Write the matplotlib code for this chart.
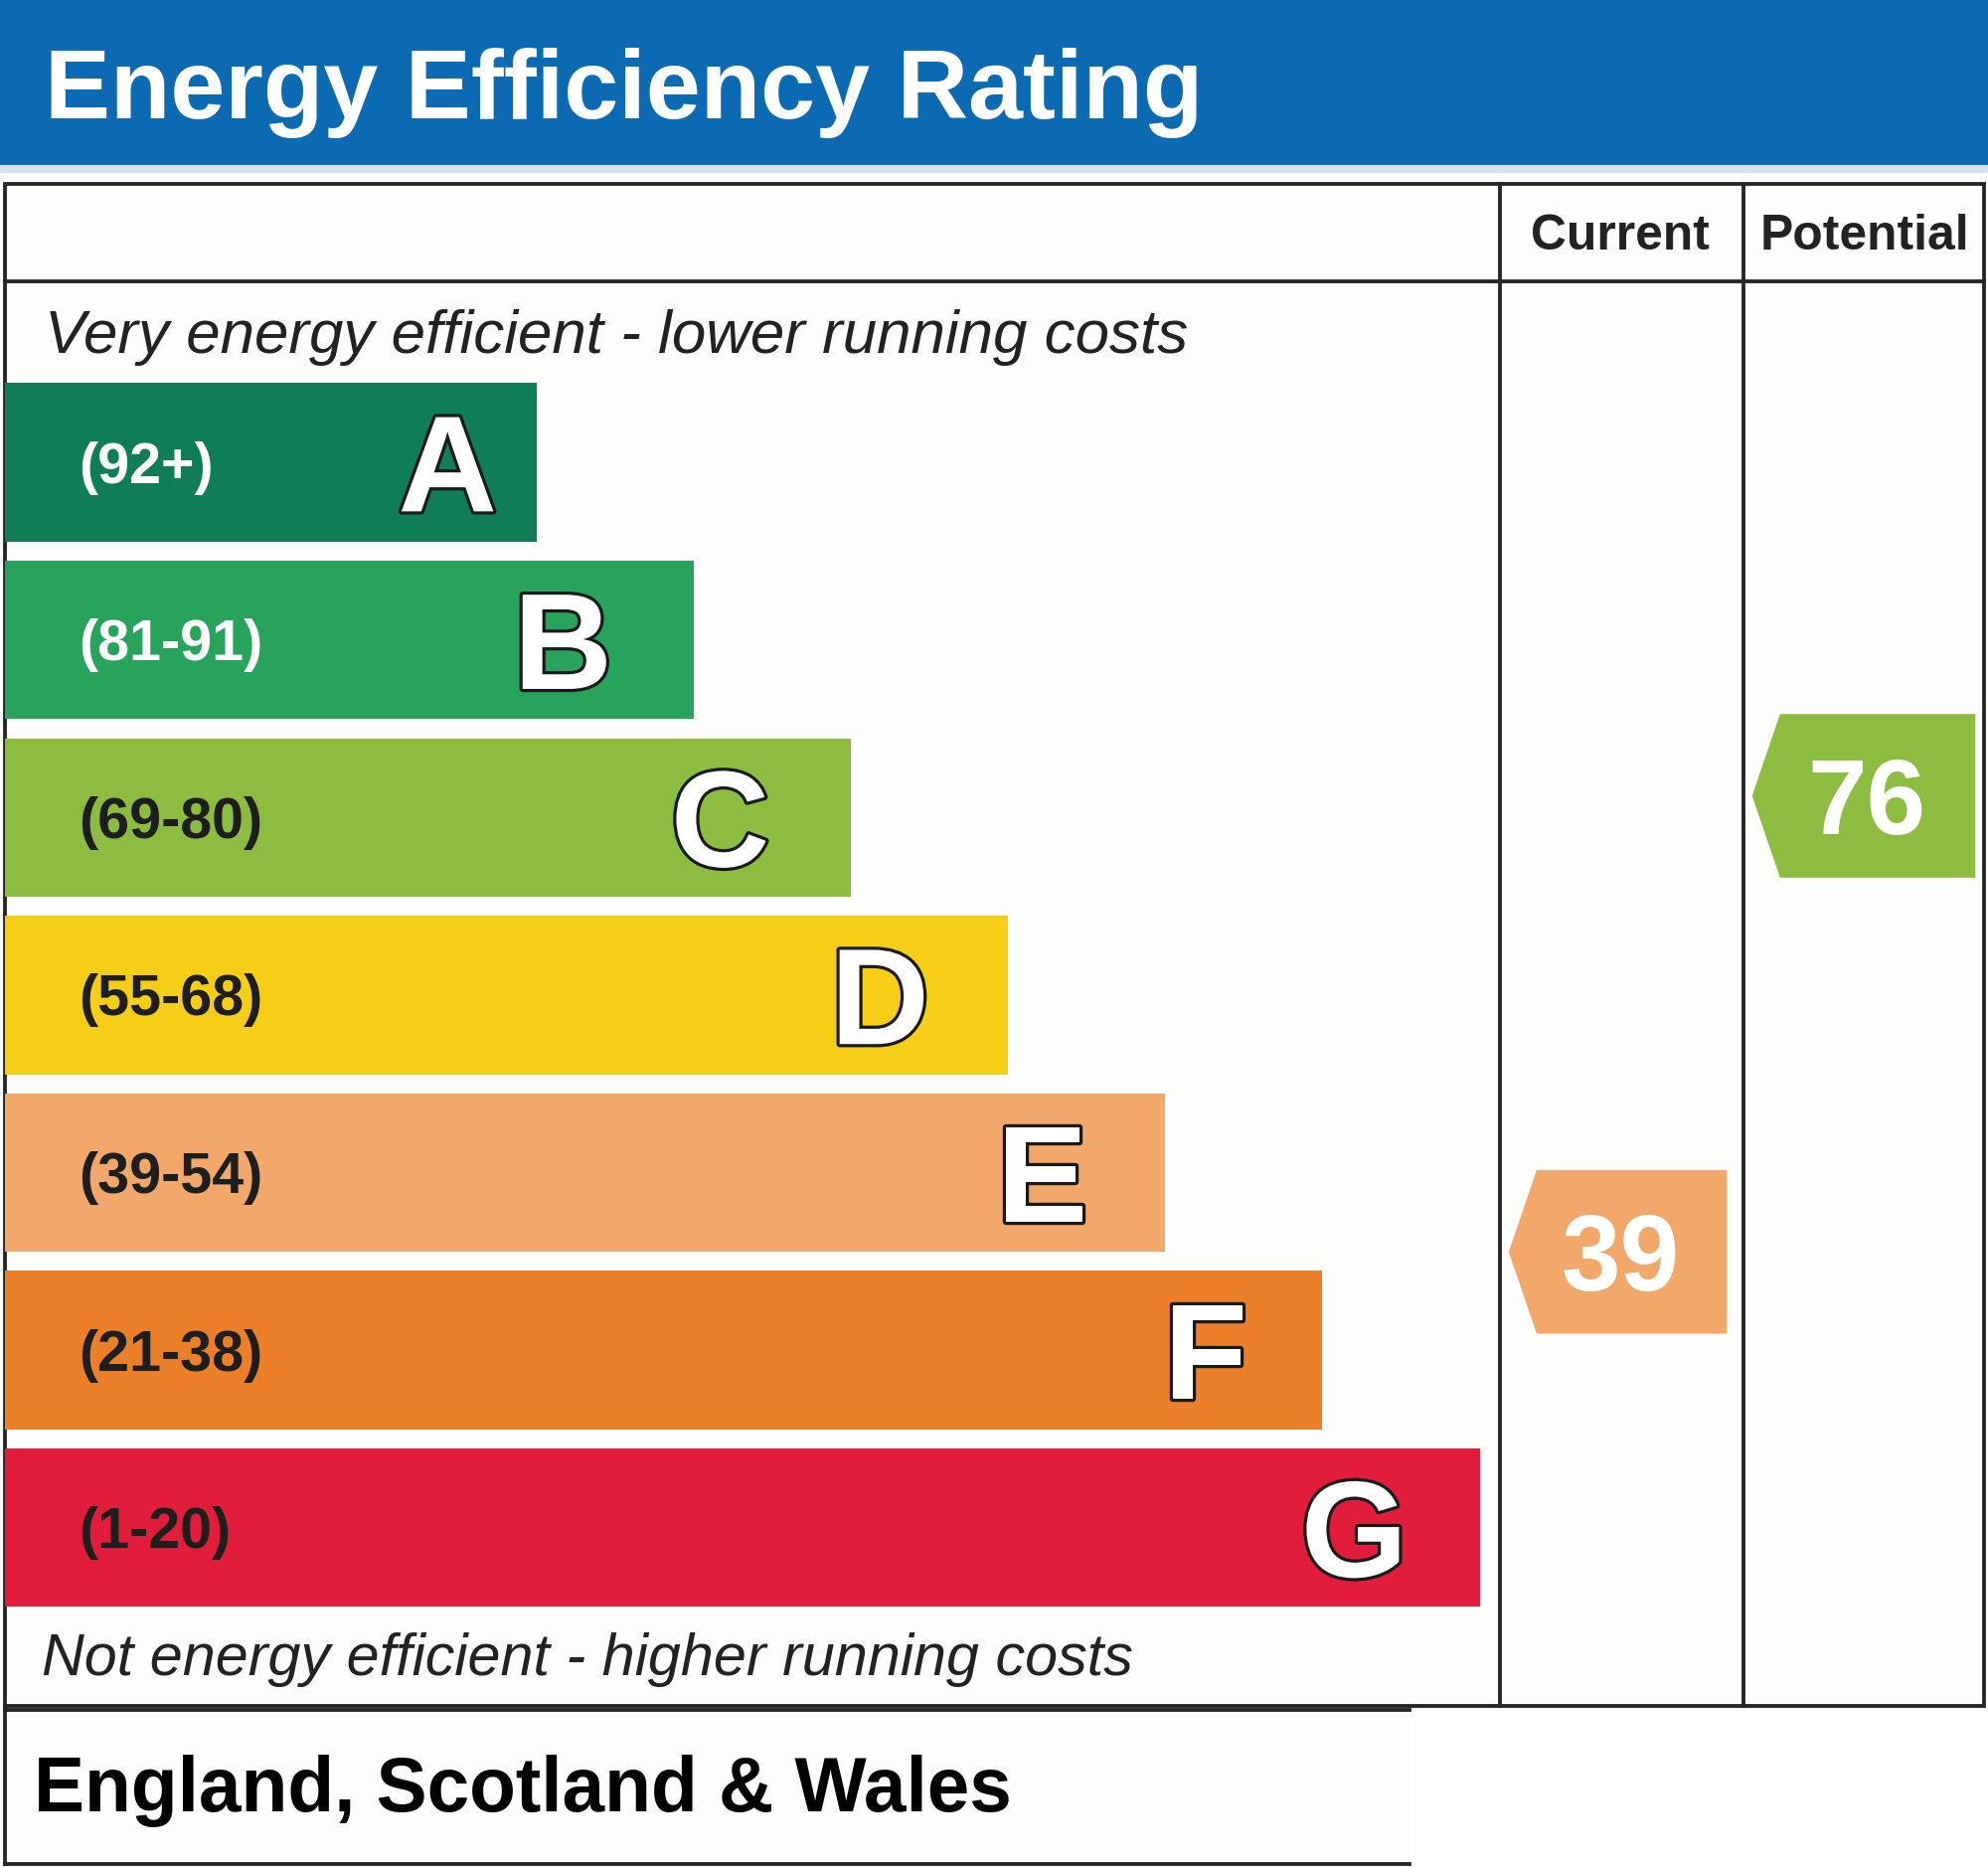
import matplotlib
matplotlib.use("Agg")
import matplotlib.pyplot as plt
import matplotlib.patheffects as pe
from matplotlib.patches import Rectangle, Polygon

plt.rcParams["font.family"] = ["Liberation Sans", "DejaVu Sans"]

# rating bands
bands = ["A", "B", "C", "D", "E", "F", "G"]
band_ranges = ["(92+)", "(81-91)", "(69-80)", "(55-68)", "(39-54)", "(21-38)", "(1-20)"]
band_lo = [92, 81, 69, 55, 39, 21, 1]
band_hi = [100, 91, 80, 68, 54, 38, 20]
band_colors = ["#0f7d55", "#27a35b", "#8cbd40", "#f6cd17", "#f2a86b", "#ec7f29", "#e21d3b"]
range_text_colors = ["white", "white", "#1e1e1e", "#1e1e1e", "#1e1e1e", "#1e1e1e", "#1e1e1e"]

# scores
current_score = 39
potential_score = 76

# layout in reference units (1568 x 1472 canvas)
W, H = 1568, 1472
U = 2000 / W                  # pixels per unit
PT = U * 72 / 100             # points per unit
CAP = 0.716                   # cap height / em for Liberation Sans

frame_l, frame_r, frame_t, frame_b = 4, 1565, 145, 1345
header_b = 222
col1, col2 = 1183, 1375
bar_top0, bar_pitch, bar_h = 302, 140, 125
bar_w0, bar_step = 419, 124
letter_offset = [70, 103, 103, 101, 97, 92, 99]
line_col = "#262626"
lw = 3 * PT

fig = plt.figure(figsize=(20, 18.78), dpi=100)
ax = fig.add_axes([0, 0, 1, 1])
ax.set_xlim(0, W)
ax.set_ylim(H, 0)
ax.axis("off")
fig.patch.set_facecolor("white")

# blue header
ax.add_patch(Rectangle((0, 0), W, 130, color="#0b6ab2", lw=0))
ax.add_patch(Rectangle((0, 130), W, 6, color="#d6e4f2", lw=0))
ax.text(35, 93, "Energy Efficiency Rating", color="white", fontsize=77.5 * PT,
        fontweight="bold", va="baseline", ha="left")

# main frame
ax.add_patch(Rectangle((frame_l, frame_t), frame_r - frame_l, frame_b - frame_t,
                       facecolor="#fdfdfb", edgecolor=line_col, lw=lw))
ax.plot([frame_l, frame_r], [header_b, header_b], color=line_col, lw=lw)
for cx in (col1, col2):
    ax.plot([cx, cx], [frame_t, frame_b], color=line_col, lw=lw)

ax.text((col1 + col2) / 2 - 1, 197, "Current", color="#222222", fontsize=39 * PT,
        fontweight="bold", ha="center", va="baseline")
ax.text((col2 + frame_r) / 2 + 1, 197, "Potential", color="#222222", fontsize=39 * PT,
        fontweight="bold", ha="center", va="baseline")

ax.text(35, 278, "Very energy efficient - lower running costs", color="#222222",
        fontsize=48.5 * PT, style="italic", va="baseline")
ax.text(33, 1321, "Not energy efficient - higher running costs", color="#222222",
        fontsize=46.5 * PT, style="italic", va="baseline")

# bands
range_em = 45
letter_em = 108
for i, b in enumerate(bands):
    top = bar_top0 + i * bar_pitch
    right = frame_l + bar_w0 + i * bar_step
    ax.add_patch(Rectangle((frame_l, top), right - frame_l, bar_h,
                           color=band_colors[i], lw=0))
    yc = top + bar_h / 2
    ax.text(62, yc + CAP * range_em / 2, band_ranges[i], color=range_text_colors[i],
            fontsize=range_em * PT, fontweight="bold", va="baseline")
    ax.text(right - letter_offset[i], yc + CAP * letter_em / 2, b, color="white",
            fontsize=letter_em * PT, fontweight="bold", ha="center", va="baseline",
            path_effects=[pe.withStroke(linewidth=5 * PT, foreground="#1a1a1a")])


def score_y(score):
    for i in range(len(bands)):
        if band_lo[i] <= score <= band_hi[i]:
            bottom = bar_top0 + i * bar_pitch + bar_h
            frac = (score - band_lo[i]) / (band_hi[i] - band_lo[i])
            return bottom - frac * bar_h, band_colors[i]
    return None, None


def score_arrow(score, left, right):
    yc, c = score_y(score)
    half = 64.5
    tip, body_l, body_r = left + 7, left + 29, right - 13
    pts = [(tip, yc), (body_l, yc - half), (body_r, yc - half),
           (body_r, yc + half), (body_l, yc + half)]
    ax.add_patch(Polygon(pts, closed=True, color=c, lw=0))
    num_em = 84
    ax.text((body_l + body_r) / 2 - 9, yc + CAP * num_em / 2, str(score), color="white",
            fontsize=num_em * PT, fontweight="bold", ha="center", va="baseline")


score_arrow(current_score, col1, col2)
score_arrow(potential_score, col2, frame_r + 6)

# bottom country box
ax.add_patch(Rectangle((0, 1349), 1112, 121, facecolor="#fdfdfb", lw=0))
ax.plot([frame_l, 1112], [1348, 1348], color=line_col, lw=lw)
ax.plot([frame_l, 1112], [1470, 1470], color=line_col, lw=lw)
ax.plot([frame_l, frame_l], [1345, 1470], color=line_col, lw=lw)
ax.text(27, 1428, "England, Scotland & Wales", color="black", fontsize=60 * PT,
        fontweight="bold", va="baseline")

fig.savefig("out.png", dpi=100, facecolor="white")
